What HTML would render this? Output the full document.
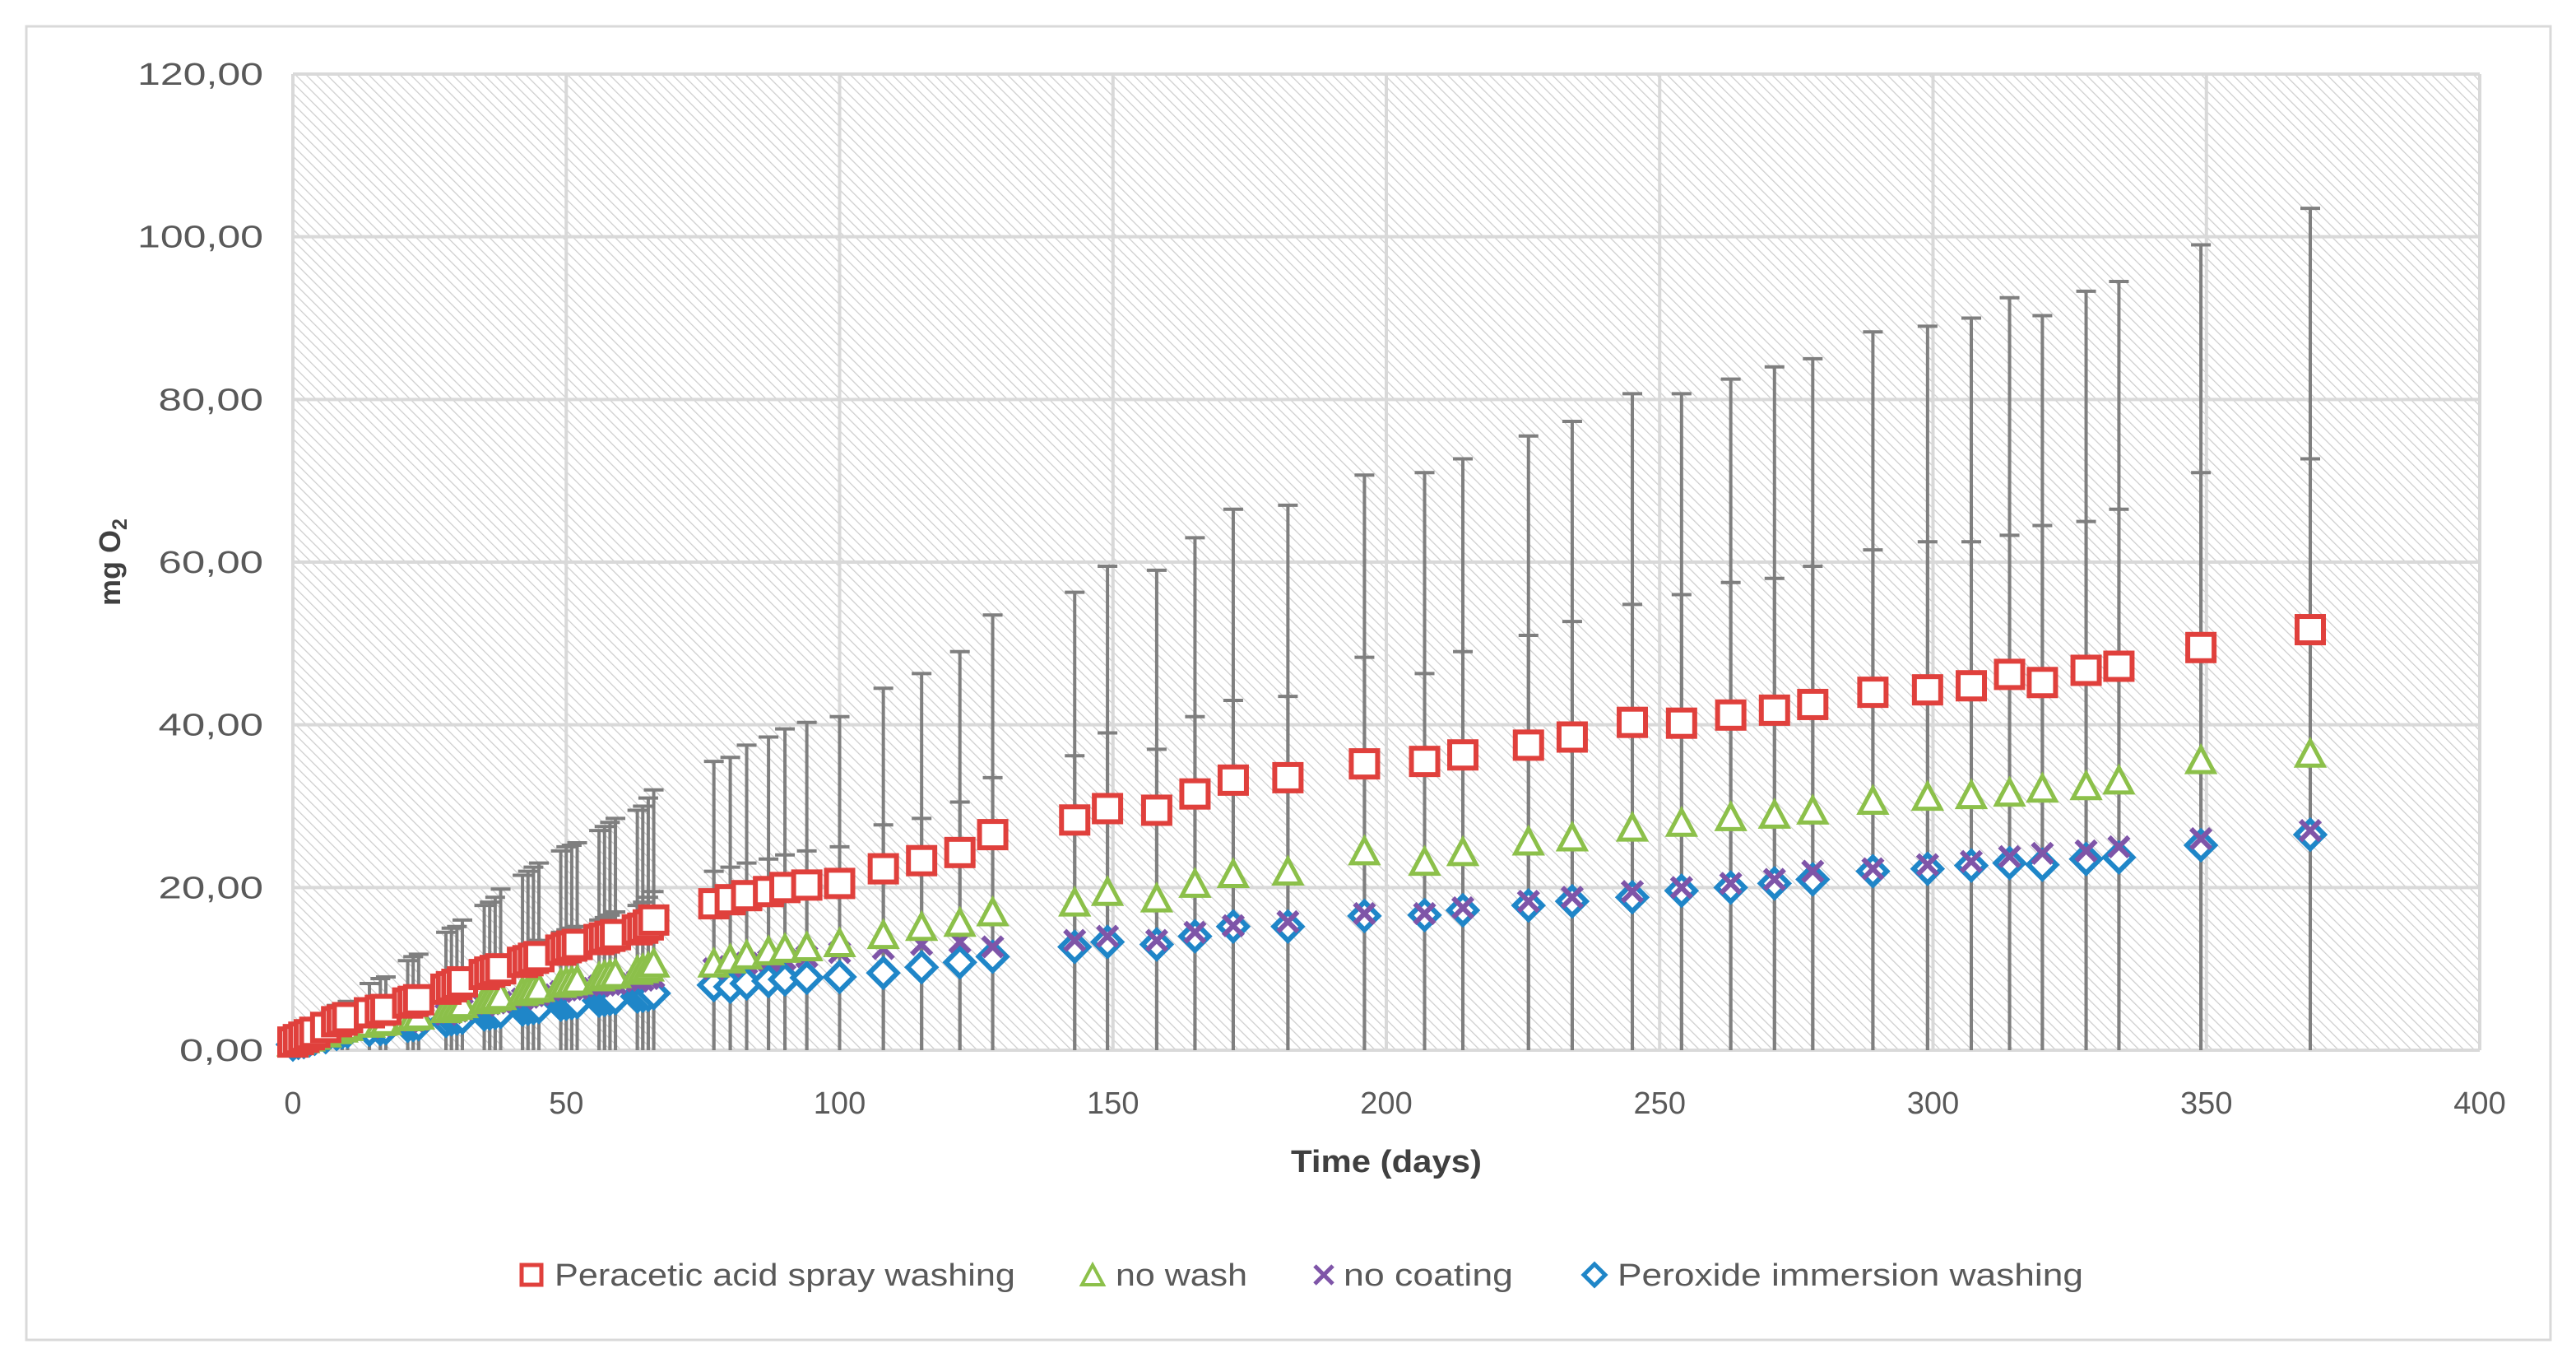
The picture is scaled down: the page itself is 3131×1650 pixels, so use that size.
<!DOCTYPE html>
<html><head><meta charset="utf-8"><style>
html,body{margin:0;padding:0;background:#fff;}
svg{display:block;font-family:"Liberation Sans",sans-serif;}
</style></head><body>
<svg id="chart" width="3131" height="1650" viewBox="0 0 3131 1650">
<defs>
<pattern id="hatch" width="9" height="9" patternUnits="userSpaceOnUse" patternTransform="rotate(-45)">
<rect width="9" height="9" fill="#ffffff"/>
<line x1="0" y1="0" x2="0" y2="9" stroke="#cdcdcd" stroke-width="2.5"/>
</pattern>
</defs>
<rect x="32" y="32" width="3068" height="1596" fill="#fff" stroke="#d9d9d9" stroke-width="3"/>
<rect x="356" y="90" width="2658" height="1186" fill="url(#hatch)"/>
<g id="grid"></g>
<g id="yticks"></g>
<g id="xticks"></g>
<g id="errs"></g>
<g id="marks"></g>
<text x="146" y="683" transform="rotate(-90 146 683)" text-anchor="middle" font-size="36" font-weight="bold" fill="#404040">mg O<tspan font-size="25" dy="8">2</tspan></text>
<text x="1685" y="1424" text-anchor="middle" font-size="38" font-weight="bold" fill="#404040" textLength="232" lengthAdjust="spacingAndGlyphs">Time (days)</text>
<g id="legend">
<g><rect x="634" y="1537" width="24" height="24" fill="#fff" stroke="#e0403c" stroke-width="5"/><text x="674" y="1562" font-size="38" fill="#595959" textLength="560" lengthAdjust="spacingAndGlyphs">Peracetic acid spray washing</text></g>
<g><polygon points="1328,1537 1341,1561 1315,1561" fill="#fff" stroke="#8cc04a" stroke-width="4"/><text x="1356" y="1562" font-size="38" fill="#595959" textLength="160" lengthAdjust="spacingAndGlyphs">no wash</text></g>
<g><path d="M1598,1538 L1620,1560 M1620,1538 L1598,1560" stroke="#7f55a8" stroke-width="5"/><text x="1633" y="1562" font-size="38" fill="#595959" textLength="206" lengthAdjust="spacingAndGlyphs">no coating</text></g>
<g><polygon points="1938,1536 1951,1549 1938,1562 1925,1549" fill="#fff" stroke="#1f86c8" stroke-width="5"/><text x="1966" y="1562" font-size="38" fill="#595959" textLength="566" lengthAdjust="spacingAndGlyphs">Peroxide immersion washing</text></g>
</g>
</svg>
<script>
const days=[0,1,2,3,4,6,8,9,10,14,16,17,21,22,23,28,29,30,31,35,36,37,38,42,43,44,45,49,50,51,52,56,57,58,59,63,64,65,66,77,80,83,87,90,94,100,108,115,122,128,143,149,158,165,172,182,196,207,214,226,234,245,254,263,271,278,289,299,307,314,320,328,334,349,369];
const peracetic=[1,1.3,1.6,1.9,2.2,2.8,3.5,3.7,4,4.6,4.9,5,5.8,6,6.2,7.5,7.8,8.1,8.4,9.3,9.6,9.8,10,10.8,11,11.3,11.5,12.3,12.6,12.8,13,13.6,13.8,14,14.2,14.8,15,15.4,16,18,18.5,19,19.5,20,20.3,20.5,22.3,23.3,24.3,26.5,28.3,29.7,29.5,31.5,33.2,33.5,35.2,35.5,36.3,37.5,38.5,40.3,40.2,41.2,41.8,42.5,44,44.3,44.8,46.2,45.2,46.7,47.2,49.5,51.7];
const peraceticTop=[1.5,2,2.5,3,3.5,4.5,5.5,5.7,6,8.2,8.8,9,11,11.5,11.8,14.5,15,15.2,16,17.8,18.2,18.8,19.8,21.5,22,22.5,23,24.5,25,25.2,25.5,27,27.5,28,28.5,29.5,30,31,32,35.5,36,37.5,38.5,39.5,40.3,41,44.5,46.3,49,53.5,56.3,59.5,59,63,66.5,67,70.7,71,72.7,75.5,77.3,80.7,80.7,82.5,84,85,88.3,89,90,92.5,90.3,93.3,94.5,99,103.5];
const noWash=[0.8,1,1.2,1.4,1.6,1.9,2.3,2.5,2.7,3.1,3.3,3.4,3.9,4,4.1,4.9,5.1,5.3,5.5,6,6.2,6.4,6.5,7,7.2,7.4,7.5,8,8.2,8.3,8.4,8.8,9,9.1,9.2,9.6,9.8,10,10.5,10.5,11,11.5,12,12.3,12.5,13,14,15,15.5,16.8,18,19.3,18.5,20.3,21.5,21.8,24.3,23,24.2,25.5,26,27.2,27.8,28.5,28.8,29.3,30.5,31,31.2,31.5,32,32.3,33,35.5,36.3];
const noWashTop=[1,1.3,1.6,1.9,2.2,2.7,3.3,3.6,3.9,4.6,5,5.2,6.2,6.4,6.6,8.3,8.6,9,9.5,10.5,10.8,11.2,11.6,12.5,12.8,13.2,13.5,14.5,14.8,15,15.2,16,16.3,16.6,17,17.8,18.2,18.8,19.5,22,22.5,23,23.5,24,24.5,25,27.7,28.5,30.5,33.5,36.2,39,37,41,43,43.5,48.3,46.3,49,51,52.7,54.8,56,57.5,58,59.5,61.5,62.5,62.5,63.3,64.5,65,66.5,71,72.7];
const noCoating=[0.6,0.8,1,1.2,1.4,1.7,2.1,2.3,2.5,2.8,3,3.1,3.5,3.6,3.7,4.4,4.6,4.8,5,5.5,5.7,5.8,5.9,6.3,6.5,6.7,6.8,7.2,7.4,7.5,7.6,7.9,8,8.1,8.2,8.5,8.6,8.8,9,10,10.3,10.7,11,11.2,11.5,12,12.5,13,13.3,12.7,13.5,14,13.5,14.5,15.3,15.8,16.8,16.8,17.5,18.3,18.8,19.5,20,20.5,21,22,22.3,22.8,23.2,23.8,24.2,24.5,25,26,27];
const peroxide=[0.7,0.9,1,1.2,1.4,1.6,2,2.2,2.3,2.5,2.6,2.7,3,3.1,3.2,3.6,3.8,3.9,4,4.4,4.5,4.6,4.7,5,5.1,5.2,5.3,5.6,5.7,5.8,5.9,6.1,6.2,6.3,6.4,6.6,6.7,6.8,7,8,7.8,8.2,8.5,8.7,8.9,9,9.5,10.2,10.8,11.5,12.7,13.3,13,14,15.2,15.2,16.5,16.6,17.2,17.8,18.3,18.8,19.6,20,20.5,21,22,22.3,22.7,23,22.8,23.5,23.7,25.2,26.5];
const yTicks=["0,00","20,00","40,00","60,00","80,00","100,00","120,00"];
const yTickVals=[0,20,40,60,80,100,120];
const xTickVals=[0,50,100,150,200,250,300,350,400];

const X0=356,X1=3014,Y0=1276,Y1=90;
const sx=d=>X0+(d-0)/400*(X1-X0);
const sy=v=>Y0-(v/120)*(Y0-Y1);
const NS="http://www.w3.org/2000/svg";
function mk(tag,attrs,parent){const e=document.createElementNS(NS,tag);for(const k in attrs)e.setAttribute(k,attrs[k]);parent.appendChild(e);return e;}
const grid=document.getElementById('grid'),yt=document.getElementById('yticks'),xt=document.getElementById('xticks');
yTickVals.forEach((v,i)=>{
  const l=mk('line',{x1:X0,x2:X1,y1:sy(v),y2:sy(v),stroke:'#d9d9d9','stroke-width':4},grid);
  
  
  const s=yTicks[i];
  const t=mk('text',{x:X0-36,y:sy(v)+13,'text-anchor':'end','font-size':38,fill:'#595959',textLength:s.length*25.5,lengthAdjust:'spacingAndGlyphs'},yt);
  t.textContent=s;
  
  
});
xTickVals.forEach(v=>{
  const l=mk('line',{x1:sx(v),x2:sx(v),y1:Y1,y2:Y0,stroke:'#d9d9d9','stroke-width':4},grid);
  
  
  const t=mk('text',{x:sx(v),y:Y0+77,'text-anchor':'middle','font-size':38,fill:'#595959'},xt);
  t.textContent=String(v);
  
  
});
const errs=document.getElementById('errs');
function errBars(vals,tops){
  days.forEach((d,i)=>{
    const x=sx(d);
    const l=mk('line',{x1:x,x2:x,y1:sy(tops[i]),y2:sy(0),stroke:'#7f7f7f','stroke-width':4},errs);
    
    
    mk('line',{x1:x-12,x2:x+12,y1:sy(tops[i]),y2:sy(tops[i]),stroke:'#7f7f7f','stroke-width':4},errs);
  });
}
errBars(peracetic,peraceticTop);
errBars(noWash,noWashTop);
const marks=document.getElementById('marks');
days.forEach((d,i)=>{
  const x=sx(d),y=sy(peroxide[i]);
  const p=mk('polygon',{points:`${x},${y-17} ${x+17},${y} ${x},${y+17} ${x-17},${y}`,fill:'#fff',stroke:'#1f86c8','stroke-width':6},marks);
  
  
});
days.forEach((d,i)=>{
  const x=sx(d),y=sy(noCoating[i]);
  const p=mk('path',{d:`M${x-12},${y-12}L${x+12},${y+12}M${x+12},${y-12}L${x-12},${y+12}`,stroke:'#7f55a8','stroke-width':6},marks);
  
  
});
days.forEach((d,i)=>{
  const x=sx(d),y=sy(noWash[i]);
  const p=mk('polygon',{points:`${x},${y-17} ${x+16},${y+13} ${x-16},${y+13}`,fill:'#fff',stroke:'#8cc04a','stroke-width':5},marks);
  
  
});
days.forEach((d,i)=>{
  const x=sx(d),y=sy(peracetic[i]);
  const p=mk('rect',{x:x-16,y:y-16,width:32,height:32,fill:'#fff',stroke:'#e0403c','stroke-width':6},marks);
  
  
});
</script>
</body></html>
